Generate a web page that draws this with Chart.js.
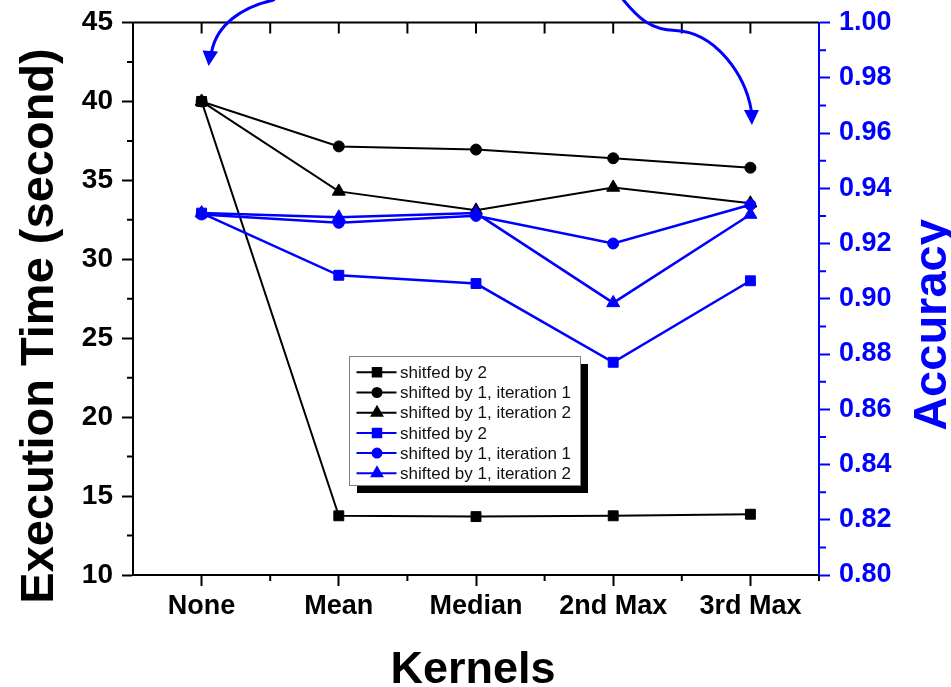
<!DOCTYPE html>
<html><head><meta charset="utf-8">
<script src="https://cdn.jsdelivr.net/npm/chart.js@4.4.0/dist/chart.umd.min.js"></script>
<style>html,body{margin:0;padding:0;background:#fff;} #wrap{width:951px;height:687px;}</style>
</head><body><div id="wrap"><canvas id="c" width="951" height="687"></canvas></div>
<script>
const categories = ['None', 'Mean', 'Median', '2nd Max', '3rd Max'];
const timeShift2 = [40.0, 13.75, 13.7, 13.75, 13.85];
const timeShift1Iter1 = [40.0, 37.15, 36.95, 36.4, 35.8];
const timeShift1Iter2 = [40.0, 34.3, 33.1, 34.55, 33.55];
const accShift2 = [0.931, 0.9085, 0.9055, 0.877, 0.9065];
const accShift1Iter1 = [0.9305, 0.9275, 0.930, 0.920, 0.934];
const accShift1Iter2 = [0.931, 0.9295, 0.931, 0.8985, 0.9305];
const seriesLabels = ['shitfed by 2', 'shifted by 1, iteration 1', 'shifted by 1, iteration 2',
                      'shitfed by 2', 'shifted by 1, iteration 1', 'shifted by 1, iteration 2'];
const timeTicks = [10, 15, 20, 25, 30, 35, 40, 45];
const accTicks = [0.80, 0.82, 0.84, 0.86, 0.88, 0.90, 0.92, 0.94, 0.96, 0.98, 1.00];
const xTitle = 'Kernels';
const yTitle = 'Execution Time (second)';
const y2Title = 'Accuracy';

const FONT = '"Liberation Sans", Arial, sans-serif';
const BLUE = '#0000ff';
const BLACK = '#000000';

function ds(label, data, color, style, radius, axis, width, order) {
  return {
    label, data, borderColor: color, backgroundColor: color,
    pointStyle: style, pointRadius: radius, pointHoverRadius: radius,
    pointBorderWidth: 1, borderWidth: width, yAxisID: axis, tension: 0, order
  };
}

const datasets = [
  ds(seriesLabels[0], timeShift2, BLACK, 'rect', 7, 'y', 2, 2),
  ds(seriesLabels[1], timeShift1Iter1, BLACK, 'circle', 5.5, 'y', 2, 2),
  ds(seriesLabels[2], timeShift1Iter2, BLACK, 'triangle', 7.5, 'y', 2, 2),
  ds(seriesLabels[3], accShift2, BLUE, 'rect', 7, 'y2', 2.5, 1),
  ds(seriesLabels[4], accShift1Iter1, BLUE, 'circle', 5.5, 'y2', 2.5, 1),
  ds(seriesLabels[5], accShift1Iter2, BLUE, 'triangle', 7.5, 'y2', 2.5, 1)
];

const decor = {
  id: 'decor',
  afterDraw(chart) {
    const { ctx, chartArea: a, scales: { x, y, y2 } } = chart;
    ctx.save();
    // top axis line
    ctx.strokeStyle = BLACK; ctx.lineWidth = 2;
    ctx.beginPath(); ctx.moveTo(a.left - 1, a.top); ctx.lineTo(a.right, a.top); ctx.stroke();
    // top ticks (inward) at categories and halfway
    const xs = categories.map((_, i) => x.getPixelForValue(i));
    ctx.beginPath();
    xs.forEach(px => { ctx.moveTo(px, a.top); ctx.lineTo(px, a.top + 11); });
    for (let i = 0; i < xs.length - 1; i++) {
      const m = (xs[i] + xs[i + 1]) / 2;
      ctx.moveTo(m, a.top); ctx.lineTo(m, a.top + 11);
      // bottom minor ticks (outward)
      ctx.moveTo(m, a.bottom); ctx.lineTo(m, a.bottom + 6);
    }
    ctx.moveTo(a.right, a.bottom); ctx.lineTo(a.right, a.bottom + 6);
    // left minor ticks
    for (let i = 0; i < timeTicks.length - 1; i++) {
      const py = y.getPixelForValue((timeTicks[i] + timeTicks[i + 1]) / 2);
      ctx.moveTo(a.left, py); ctx.lineTo(a.left - 6, py);
    }
    ctx.stroke();
    // right minor ticks
    ctx.strokeStyle = BLUE;
    ctx.beginPath();
    for (let i = 0; i < accTicks.length - 1; i++) {
      const py = y2.getPixelForValue((accTicks[i] + accTicks[i + 1]) / 2);
      ctx.moveTo(a.right, py); ctx.lineTo(a.right + 7, py);
    }
    ctx.stroke();

    // axis titles
    ctx.fillStyle = BLACK;
    ctx.font = 'bold 47px ' + FONT;
    ctx.textAlign = 'center'; ctx.textBaseline = 'alphabetic';
    ctx.save(); ctx.translate(53, 326); ctx.rotate(-Math.PI / 2); ctx.fillText(yTitle, 0, 0); ctx.restore();
    ctx.fillStyle = BLUE;
    ctx.save(); ctx.translate(946, 325); ctx.rotate(-Math.PI / 2); ctx.fillText(y2Title, 0, 0); ctx.restore();
    ctx.fillStyle = BLACK;
    ctx.font = 'bold 45px ' + FONT;
    ctx.fillText(xTitle, (a.left + a.right) / 2 - 3, 683);

    // arrows
    ctx.strokeStyle = BLUE; ctx.fillStyle = BLUE; ctx.lineWidth = 3; ctx.lineCap = 'round';
    const x0 = xs[0], x4 = xs[4];
    ctx.beginPath();
    ctx.moveTo(x0 + 72, 0);
    ctx.bezierCurveTo(x0 + 40, 7, x0 + 15, 25, x0 + 10, 52);
    ctx.stroke();
    ctx.beginPath();
    ctx.moveTo(x0 + 7, 66); ctx.lineTo(x0 + 1, 50.5); ctx.lineTo(x0 + 16.5, 51.5); ctx.closePath(); ctx.fill();

    ctx.beginPath();
    ctx.moveTo(x4 - 127, 0);
    ctx.bezierCurveTo(x4 - 112, 18, x4 - 100, 30, x4 - 75, 30.5);
    ctx.bezierCurveTo(x4 - 35, 32, x4 - 5, 75, x4 + 1, 111);
    ctx.stroke();
    ctx.beginPath();
    ctx.moveTo(x4 + 1.5, 125); ctx.lineTo(x4 - 6.5, 110); ctx.lineTo(x4 + 8.5, 110); ctx.closePath(); ctx.fill();
    ctx.restore();
  }
};

const legendBox = {
  id: 'legendBox',
  afterDatasetsDraw(chart) {
    const { ctx } = chart;
    const L = 349, T = 356, W = 231, H = 129;
    ctx.save();
    ctx.fillStyle = BLACK;
    ctx.fillRect(L + 8, T + 8, W, H);
    ctx.fillStyle = '#ffffff';
    ctx.fillRect(L, T, W, H);
    ctx.strokeStyle = '#808080'; ctx.lineWidth = 1;
    ctx.strokeRect(L + 0.5, T + 0.5, W, H);
    datasets.forEach((d, i) => {
      const ry = T + 16.3 + i * 20.2;
      ctx.strokeStyle = d.borderColor; ctx.lineWidth = 2;
      ctx.beginPath(); ctx.moveTo(L + 7.5, ry); ctx.lineTo(L + 47.5, ry); ctx.stroke();
      ctx.fillStyle = d.backgroundColor;
      const r = d.pointStyle === 'rect' ? 6 : d.pointStyle === 'circle' ? 4.5 : 6;
      Chart.helpers.drawPoint(ctx, { pointStyle: d.pointStyle, radius: r, rotation: 0, borderWidth: 1 }, L + 28, ry);
      ctx.fillStyle = '#111';
      ctx.font = '17px ' + FONT;
      ctx.textAlign = 'left'; ctx.textBaseline = 'middle';
      ctx.fillText(d.label, L + 51, ry + 1);
    });
    ctx.restore();
  }
};

new Chart(document.getElementById('c'), {
  type: 'line',
  data: { labels: categories, datasets },
  plugins: [legendBox, decor],
  options: {
    responsive: false, animation: false, devicePixelRatio: 1,
    layout: { padding: { top: 22.5, left: 0, right: 0, bottom: 0 } },
    plugins: { legend: { display: false }, tooltip: { enabled: false } },
    scales: {
      x: {
        type: 'category', offset: true,
        grid: { drawOnChartArea: false, offset: false, tickLength: 11, tickColor: BLACK, tickWidth: 2 },
        border: { color: BLACK, width: 2 },
        ticks: { color: BLACK, font: { family: FONT, size: 27, weight: 'bold' }, padding: 4, maxRotation: 0, autoSkip: false },
        afterFit: s => { s.height = 112; s.paddingLeft = 0; s.paddingRight = 0; }
      },
      y: {
        position: 'left', min: 10, max: 45,
        afterBuildTicks: s => { s.ticks = timeTicks.map(v => ({ value: v })); },
        grid: { drawOnChartArea: false, tickLength: 11, tickColor: BLACK, tickWidth: 2 },
        border: { color: BLACK, width: 2 },
        ticks: { color: BLACK, font: { family: FONT, size: 28, weight: 'bold' }, padding: 9 },
        afterFit: s => { s.width = 133; s.paddingTop = 0; s.paddingBottom = 0; }
      },
      y2: {
        position: 'right', min: 0.8, max: 1.0,
        afterBuildTicks: s => { s.ticks = accTicks.map(v => ({ value: v })); },
        grid: { drawOnChartArea: false, tickLength: 11, tickColor: BLUE, tickWidth: 2 },
        border: { color: BLUE, width: 2 },
        ticks: { color: BLUE, font: { family: FONT, size: 27, weight: 'bold' }, padding: 9, callback: v => Number(v).toFixed(2) },
        afterFit: s => { s.width = 132; s.paddingTop = 0; s.paddingBottom = 0; }
      }
    }
  }
});
</script></body></html>
